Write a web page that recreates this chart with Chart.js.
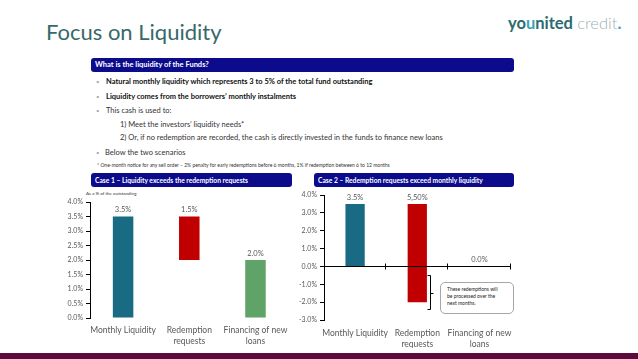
<!DOCTYPE html>
<html>
<head>
<meta charset="utf-8">
<script src="https://cdn.jsdelivr.net/npm/chart.js@4.4.1/dist/chart.umd.min.js"></script>
<style>
body{margin:0;width:638px;height:359px;background:#fff;overflow:hidden;position:relative;font-family:Lato,"Open Sans",sans-serif;}
.abs{position:absolute;white-space:nowrap;}
.bar{position:absolute;background:#0b0b8c;border-radius:3px;color:#fff;font-weight:bold;font-size:7.5px;line-height:14px;height:14px;padding-left:4px;box-sizing:border-box;}
.line{position:absolute;white-space:nowrap;font-size:7.5px;line-height:10px;color:#333;}
.dot{position:absolute;font-size:6px;line-height:10px;color:#a8a8a8;}
.chartbox{position:absolute;}
</style>
</head>
<body>
<div class="abs" style="left:46px;top:17px;font-size:22px;line-height:30px;color:#37696a;">Focus on Liquidity</div>
<div class="abs" style="left:508px;top:13px;font-size:16.5px;line-height:20px;">
<span style="font-weight:bold;color:#2a6b72">yo</span><span style="font-weight:bold;color:#3aa3b5">u</span><span style="font-weight:bold;color:#2a6b72">nited</span> <span style="font-weight:300;color:#9fb1b3">credit</span><span style="font-weight:bold;color:#3aa3b5">.</span>
</div>

<div class="bar" style="left:91px;top:58px;width:423px;">What is the liquidity of the Funds?</div>

<div class="dot" style="left:96px;top:77px;">&bull;</div>
<div class="line" style="left:106px;top:77px;font-weight:bold;color:#111;">Natural monthly liquidity which represents 3 to 5% of the total fund outstanding</div>
<div class="dot" style="left:96px;top:92px;">&bull;</div>
<div class="line" style="left:106px;top:92px;font-weight:bold;color:#111;">Liquidity comes from the borrowers’ monthly instalments</div>
<div class="dot" style="left:96px;top:106px;">&bull;</div>
<div class="line" style="left:106px;top:106px;">This cash is used to:</div>
<div class="line" style="left:120px;top:120px;">1) Meet the investors’ liquidity needs*</div>
<div class="line" style="left:120px;top:133px;">2) Or, if no redemption are recorded, the cash is directly invested in the funds to finance new loans</div>
<div class="dot" style="left:96px;top:148px;">&bull;</div>
<div class="line" style="left:105px;top:148px;">Below the two scenarios</div>
<div class="line" style="left:97px;top:160px;font-size:5px;">* One-month notice for any sell order – 2% penalty for early redemptions before 6 months, 1% if redemption between 6 to 12 months</div>

<div class="bar" style="left:91px;top:173px;width:201px;font-size:6.7px;">Case 1 – Liquidity exceeds the redemption requests</div>
<div class="bar" style="left:314px;top:173px;width:200px;font-size:6.7px;">Case 2 – Redemption requests exceed monthly liquidity</div>
<div class="abs" style="left:86px;top:191px;font-size:4.5px;line-height:6px;color:#333;">As a % of the outstanding</div>

<div class="chartbox" style="left:40px;top:190px;width:255px;height:160px;"><canvas id="case1"></canvas></div>
<div class="chartbox" style="left:275px;top:185px;width:245px;height:167px;"><canvas id="case2"></canvas></div>

<div class="abs" style="left:440px;top:282px;width:74px;height:32px;box-sizing:border-box;border:1px solid #a6a6a6;border-radius:5px;background:#fff;font-size:5px;line-height:7px;color:#222;padding:3px 0 0 6px;">These redemptions will<br>be processed over the<br>next months.</div>

<div class="abs" style="left:0;top:353px;width:638px;height:6px;background:#5c0a3c;"></div>

<script>
// categories shared by both cases
var categories = [["Monthly Liquidity"], ["Redemption", "requests"], ["Financing of new", "loans"]];

// Case 1 - floating bars, start and end values (% of outstanding)
var case1Start = [0, 2.0, 0];
var case1End = [3.5, 3.5, 2.0];
var case1Labels = ["3.5%", "1.5%", "2.0%"];

// Case 2
var case2Start = [0, -2.0, 0];
var case2End = [3.5, 3.5, 0];
var case2Labels = ["3.5%", "5,50%", "0.0%"];

var barColors = ["#186b82", "#c00000", "#5fa368"];

Chart.defaults.font.family = "Lato, 'Open Sans', sans-serif";
Chart.defaults.color = "#595959";

function toRanges(starts, ends) {
	var out = [];
	for (var i = 0; i < starts.length; i++) {
		out.push([starts[i], ends[i]]);
	}
	return out;
}

// writes the value over each bar
var barLabels = {
	id: 'barLabels',
	afterDatasetsDraw: function(chart, args, opts) {
		var ctx = chart.ctx;
		var meta = chart.getDatasetMeta(0);
		ctx.save();
		ctx.font = '7.5px Lato';
		ctx.fillStyle = '#595959';
		ctx.textAlign = 'center';
		ctx.textBaseline = 'bottom';
		meta.data.forEach(function(bar, i) {
			var top = Math.min(bar.y, bar.base);
			ctx.fillText(opts.labels[i], bar.x, top - 3);
		});
		ctx.restore();
	}
};

// zero line with category ticks + bracket next to the redemption bar (case 2)
var zeroLine = {
	id: 'zeroLine',
	afterDatasetsDraw: function(chart) {
		var ctx = chart.ctx;
		var xs = chart.scales.x, ys = chart.scales.y;
		var area = chart.chartArea;
		var y0 = Math.round(ys.getPixelForValue(0)) + 0.5;
		var half = (xs.getPixelForValue(1) - xs.getPixelForValue(0)) / 2;
		ctx.save();
		ctx.strokeStyle = '#000';
		ctx.lineWidth = 1;
		ctx.beginPath();
		ctx.moveTo(area.left, y0);
		ctx.lineTo(area.right, y0);
		for (var i = 0; i < categories.length; i++) {
			var bx = Math.round(xs.getPixelForValue(i) + half) - 0.5;
			ctx.moveTo(bx, y0 - 3);
			ctx.lineTo(bx, y0 + 3);
		}
		ctx.stroke();

		var bar = chart.getDatasetMeta(0).data[1];
		var bx2 = Math.round(bar.x + bar.width / 2 + 3) + 0.5;
		var t = Math.round(ys.getPixelForValue(-0.5)) + 0.5;
		var b = Math.round(ys.getPixelForValue(-2.4)) + 0.5;
		var m = Math.round((t + b) / 2) + 0.5;
		ctx.beginPath();
		ctx.moveTo(bx2 - 3, t);
		ctx.lineTo(bx2, t);
		ctx.lineTo(bx2, b);
		ctx.lineTo(bx2 - 3, b);
		ctx.moveTo(bx2, m);
		ctx.lineTo(bx2 + 3, m);
		ctx.stroke();
		ctx.restore();
	}
};

function buildChart(id, starts, ends, labels, yMin, yMax, step, pad, yWidth, xHeight, xPad, plugins) {
	var ctx = document.getElementById(id).getContext('2d');
	return new Chart(ctx, {
		type: 'bar',
		data: {
			labels: categories,
			datasets: [{
				data: toRanges(starts, ends),
				backgroundColor: barColors,
				borderSkipped: false,
				barPercentage: 1,
				categoryPercentage: 0.31
			}]
		},
		options: {
			responsive: true,
			maintainAspectRatio: false,
			animation: false,
			layout: { padding: pad },
			plugins: {
				legend: { display: false },
				tooltip: { enabled: false },
				barLabels: { labels: labels }
			},
			scales: {
				x: {
					grid: { display: false, drawTicks: false },
					border: { display: false },
					ticks: { padding: xPad, color: '#595959', font: { size: 8.5, lineHeight: 1.3 }, maxRotation: 0, autoSkip: false },
					afterFit: function(scale) { scale.height = xHeight; }
				},
				y: {
					min: yMin,
					max: yMax,
					grid: { drawOnChartArea: false, drawTicks: true, tickLength: 4, color: '#000' },
					border: { color: '#000' },
					ticks: {
						stepSize: step,
						padding: 3,
						color: '#595959',
						font: { size: 7 },
						callback: function(v) { return v.toFixed(1) + '%'; }
					},
					afterFit: function(scale) { scale.width = yWidth; }
				}
			}
		},
		plugins: plugins
	});
}

window.addEventListener('load', function() {
	buildChart('case1', case1Start, case1End, case1Labels, 0, 4, 0.5,
		{ top: 12, right: 4, bottom: 2, left: 0 }, 50, 30, 7, [barLabels]);
	buildChart('case2', case2Start, case2End, case2Labels, -3, 4, 1,
		{ top: 10, right: 4, bottom: 4, left: 0 }, 49, 28, 8, [barLabels, zeroLine]);
});
</script>
</body>
</html>
